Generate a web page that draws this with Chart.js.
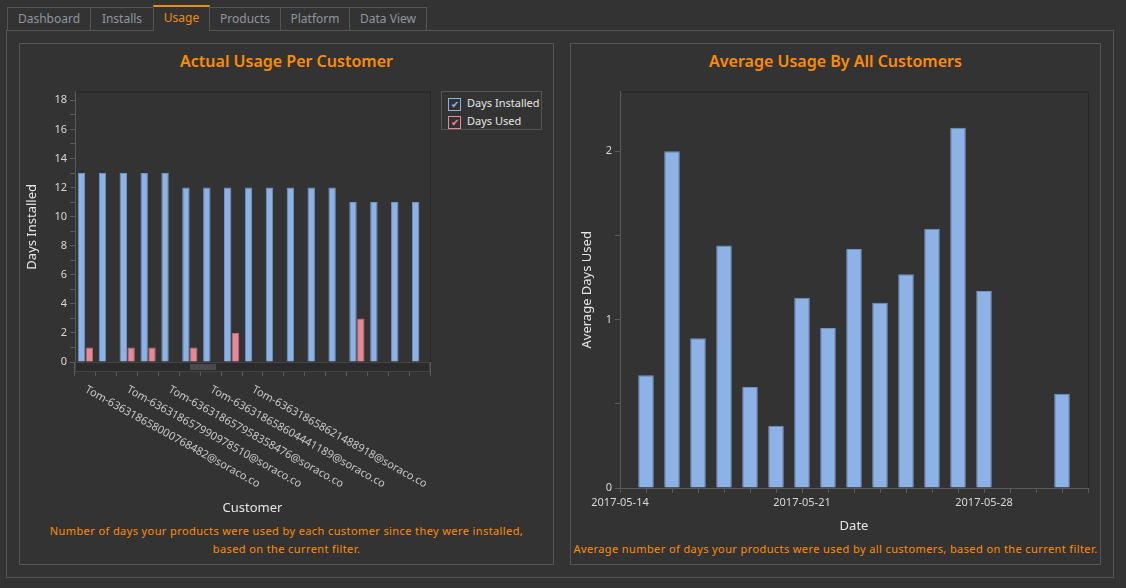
<!DOCTYPE html>
<html>
<head>
<meta charset="utf-8">
<script src="https://cdn.jsdelivr.net/npm/chart.js@4"></script>
<style>
body { margin:0; width:1126px; height:588px; background:#333333; font-family:"Noto Sans", sans-serif; overflow:hidden; position:relative; }
.tab { position:absolute; top:7px; height:23px; border:1px solid #555; border-bottom:none; box-sizing:border-box; color:#8f969e; font-size:12px; line-height:21px; text-align:center; background:#333; }
.tab.on { top:5px; height:26px; color:#f28c0f; border-top:2px solid #f28c0f; z-index:2; }
.box { position:absolute; border:1px solid #555; box-sizing:border-box; }
.title { position:absolute; color:#ff8c00; font-weight:600; font-size:16px; text-align:center; }
.note { position:absolute; color:#ff8c00; font-size:11px; text-align:center; line-height:18px; letter-spacing:0.4px; }
canvas { position:absolute; }
.legend { position:absolute; left:441px; top:91px; width:101px; height:39px; border:1px solid #555; box-sizing:border-box; color:#e6e6e6; font-size:11px; white-space:nowrap; }
.legend div { position:absolute; left:6px; height:15px; line-height:15px; }
.legend span { display:inline-block; width:13px; height:13px; box-sizing:border-box; margin-right:6px; vertical-align:middle; font-size:10px; line-height:11px; text-align:center; }
</style>
</head>
<body>
<div class="tab" style="left:7px;width:84px">Dashboard</div>
<div class="tab" style="left:90px;width:64px">Installs</div>
<div class="tab on" style="left:153px;width:57px">Usage</div>
<div class="tab" style="left:209px;width:72px">Products</div>
<div class="tab" style="left:280px;width:70px">Platform</div>
<div class="tab" style="left:349px;width:78px">Data View</div>
<div class="box" style="left:6px;top:30px;width:1108px;height:548px"></div>
<div class="box" style="left:19px;top:43px;width:535px;height:522px"></div>
<div class="box" style="left:570px;top:43px;width:531px;height:522px"></div>
<div class="title" style="left:19px;top:50px;width:535px">Actual Usage Per Customer</div>
<div class="title" style="left:570px;top:50px;width:531px">Average Usage By All Customers</div>
<div class="note" style="left:19px;top:522px;width:535px">Number of days your products were used by each customer since they were installed,<br>based on the current filter.</div>
<div class="note" style="left:570px;top:540px;width:531px">Average number of days your products were used by all customers, based on the current filter.</div>
<canvas id="left" style="left:20px;top:82px"></canvas>
<canvas id="right" style="left:575px;top:82px"></canvas>
<div class="legend">
  <div style="top:3px"><span style="border:1px solid #8db3e6;color:#8db3e6">&#10004;</span>Days Installed</div>
  <div style="top:21px"><span style="border:1px solid #e88a96;color:#e88a96">&#10004;</span>Days Used</div>
</div>
<div style="position:absolute;left:75px;top:362px;width:355px;height:10px;background:#2b2b2b;border:1px solid #444;box-sizing:border-box"></div>
<div style="position:absolute;left:190px;top:364px;width:26px;height:6px;background:#4a4a4a"></div>
<script>
// customers (only every second name is shown on the axis)
const customers = [
  "Tom-636318658000768482@soraco.co", "",
  "Tom-636318657990978510@soraco.co", "",
  "Tom-636318657958358476@soraco.co", "",
  "Tom-636318658604441189@soraco.co", "",
  "Tom-636318658621488918@soraco.co", "",
  "", "", "", "", "", "", ""
];
const daysInstalled = [13, 13, 13, 13, 13, 12, 12, 12, 12, 12, 12, 12, 12, 11, 11, 11, 11];
const daysUsed = [1, 0, 1, 1, 0, 1, 0, 2, 0, 0, 0, 0, 0, 3, 0, 0, 0];

// average usage per day
const dates = ["2017-05-14", "2017-05-15", "2017-05-16", "2017-05-17", "2017-05-18", "2017-05-19",
  "2017-05-20", "2017-05-21", "2017-05-22", "2017-05-23", "2017-05-24", "2017-05-25", "2017-05-26",
  "2017-05-27", "2017-05-28", "2017-05-29", "2017-05-30", "2017-05-31", "2017-06-01"];
const avgUsed = [null, 0.67, 2.0, 0.89, 1.44, 0.6, 0.37, 1.13, 0.95, 1.42, 1.1, 1.27, 1.54, 2.14,
  1.17, null, null, 0.56, null];
const dateTicks = ["2017-05-14", "2017-05-21", "2017-05-28"];

const blue = "#8db3e6", blueEdge = "#7192c4";
const red = "#e88a96", redEdge = "#bf6a78";
const txt = "#d8d8d8", axisCol = "#5a5a5a";
Chart.defaults.font.family = "Noto Sans";
Chart.defaults.font.size = 11;
Chart.defaults.color = txt;

// thin dark frame around the plot area
const frame = {
  id: "frame",
  beforeDraw(chart) {
    const a = chart.chartArea, c = chart.ctx;
    c.save();
    c.strokeStyle = "#262626";
    c.strokeRect(a.left + 0.5, a.top + 0.5, a.right - a.left, a.bottom - a.top);
    c.restore();
  }
};

// rotated customer names going down-right from the tick
const slantLabels = {
  id: "slantLabels",
  afterDraw(chart) {
    const c = chart.ctx, x = chart.scales.x;
    c.save();
    c.font = "11px Noto Sans";
    c.fillStyle = "#c8c8c8";
    c.textBaseline = "top";
    customers.forEach((name, i) => {
      if (!name) return;
      c.save();
      c.translate(x.getPixelForValue(i) + 3, x.top + 22);
      c.rotate(29 * Math.PI / 180);
      c.fillText(name, 0, 0);
      c.restore();
    });
    c.restore();
  }
};

function setup(canvas, w, h) {
  canvas.width = w; canvas.height = h;
  canvas.style.width = w + "px"; canvas.style.height = h + "px";
}

setup(document.getElementById("left"), 420, 438);
new Chart(document.getElementById("left"), {
  type: "bar",
  data: {
    labels: customers,
    datasets: [
      { label: "Days Installed", data: daysInstalled, backgroundColor: blue, borderColor: blueEdge, borderWidth: 1 },
      { label: "Days Used", data: daysUsed, backgroundColor: red, borderColor: redEdge, borderWidth: 1 }
    ]
  },
  options: {
    responsive: false, animation: false,
    layout: { padding: { top: 0, right: 10 } },
    categoryPercentage: 0.75, barPercentage: 0.95,
    plugins: { legend: { display: false }, tooltip: { enabled: false } },
    scales: {
      x: {
        afterFit(s) { s.height = 158; },
        grid: { drawOnChartArea: false, color: axisCol, tickLength: 14 },
        border: { color: axisCol },
        ticks: { display: false },
        title: { display: true, text: "Customer", color: "#e6e6e6", font: { size: 13 }, padding: { bottom: 4 } }
      },
      y: {
        min: 0, max: 18.6,
        afterFit(s) { s.width = 55; },
        grid: { drawOnChartArea: false, color: axisCol, tickLength: 5 },
        border: { color: axisCol },
        ticks: { stepSize: 1, autoSkip: false, includeBounds: false, callback: v => (v % 2 === 0 ? v : ""), color: txt },
        title: { display: true, text: "Days Installed", color: "#e6e6e6", font: { size: 13 } }
      }
    }
  },
  plugins: [frame, slantLabels]
});

setup(document.getElementById("right"), 520, 456);
new Chart(document.getElementById("right"), {
  type: "bar",
  data: {
    labels: dates,
    datasets: [{ label: "Average Days Used", data: avgUsed, backgroundColor: blue, borderColor: blueEdge, borderWidth: 1 }]
  },
  options: {
    responsive: false, animation: false,
    layout: { padding: { top: 0, right: 7 } },
    categoryPercentage: 1, barPercentage: 0.6,
    plugins: { legend: { display: false }, tooltip: { enabled: false } },
    scales: {
      x: {
        offset: false,
        afterFit(s) { s.height = 50; },
        grid: { drawOnChartArea: false, color: axisCol, tickLength: 5, offset: false },
        border: { color: axisCol },
        ticks: { autoSkip: false, maxRotation: 0, color: txt,
          callback(v) { const d = dates[v]; return dateTicks.includes(d) ? d : ""; } },
        title: { display: true, text: "Date", color: "#e6e6e6", font: { size: 13 }, padding: { top: 2 } }
      },
      y: {
        min: 0, max: 2.354,
        afterFit(s) { s.width = 45; },
        grid: { drawOnChartArea: false, color: axisCol, tickLength: 5 },
        border: { color: axisCol },
        ticks: { stepSize: 0.5, autoSkip: false, includeBounds: false, callback: v => (Number.isInteger(v) ? v : ""), color: txt },
        title: { display: true, text: "Average Days Used", color: "#e6e6e6", font: { size: 13 } }
      }
    }
  },
  plugins: [frame]
});
</script>
</body>
</html>
